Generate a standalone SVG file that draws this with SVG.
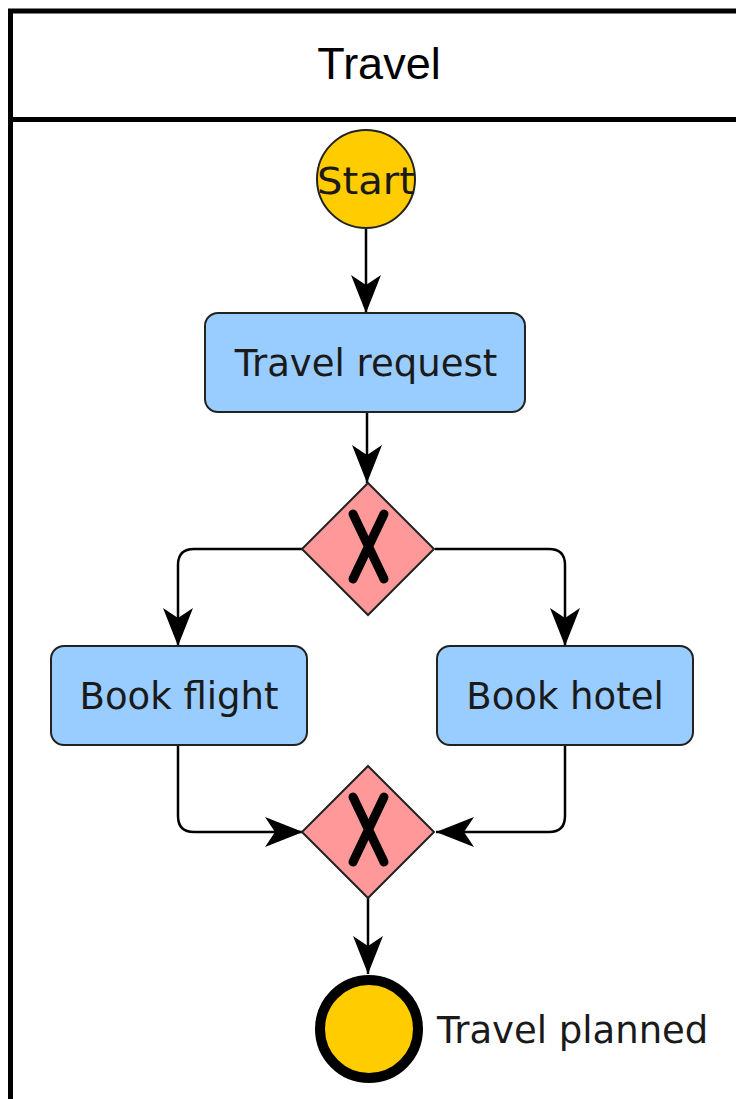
<svg xmlns="http://www.w3.org/2000/svg" width="736" height="1099" viewBox="0 0 736 1099">
<style>
  .lbl { font-family: "DejaVu Sans", Verdana, sans-serif; font-size: 37px; fill: #1a1a1a; }
  .task { fill: #99CCFF; stroke: #222; stroke-width: 2; }
  .gw { fill: #FF9999; stroke: #222; stroke-width: 2; }
  .xmark { stroke: #000; stroke-width: 9; stroke-linecap: round; fill: none; }
  .conn { stroke: #000; stroke-width: 2.5; fill: none; }
</style>
<defs>
  <marker id="arr" markerUnits="userSpaceOnUse" markerWidth="38" markerHeight="30" viewBox="0 0 38 30" refX="38" refY="15" orient="auto">
    <path d="M0,0 L38,15 L0,30 L10,15 Z" fill="#000"/>
  </marker>
</defs>
<rect width="736" height="1099" fill="#fff"/>
<g id="pool">
  <path d="M10.5,1099 L10.5,11 L736,11" fill="none" stroke="#000" stroke-width="5"/>
  <line x1="10.5" y1="119.5" x2="736" y2="119.5" stroke="#000" stroke-width="5"/>
  <text x="379" y="79" text-anchor="middle" font-family="Liberation Sans, Arial, sans-serif" font-size="45" fill="#000">Travel</text>
</g>
<g id="connectors">
  <line class="conn" x1="366" y1="229" x2="366" y2="313" marker-end="url(#arr)"/>
  <line class="conn" x1="367" y1="412" x2="367" y2="483" marker-end="url(#arr)"/>
  <path class="conn" d="M303,549 L194,549 Q178,549 178,565 L178,646" marker-end="url(#arr)"/>
  <path class="conn" d="M435,549 L549,549 Q565,549 565,565 L565,646" marker-end="url(#arr)"/>
  <path class="conn" d="M178,745 L178,816 Q178,832 194,832 L303,832" marker-end="url(#arr)"/>
  <path class="conn" d="M565,745 L565,816 Q565,832 549,832 L436,832" marker-end="url(#arr)"/>
  <line class="conn" x1="368" y1="897" x2="368" y2="974" marker-end="url(#arr)"/>
</g>
<g id="start">
  <circle cx="366" cy="179" r="49" fill="#FFCC00" stroke="#222" stroke-width="2"/>
  <text class="lbl" x="366" y="194" text-anchor="middle" font-size="40" textLength="98" lengthAdjust="spacingAndGlyphs">Start</text>
</g>
<g id="travel-request">
  <rect class="task" x="205" y="313" width="320" height="99" rx="13"/>
  <text class="lbl" x="366" y="376" text-anchor="middle">Travel request</text>
</g>
<g id="split">
  <polygon class="gw" points="368,483 434,549 368,615 302,549"/>
  <path class="xmark" d="M353,514 L384,579 M384,514 L353,579"/>
</g>
<g id="book-flight">
  <rect class="task" x="51" y="646" width="256" height="99" rx="13"/>
  <text class="lbl" x="179" y="709" text-anchor="middle">Book flight</text>
</g>
<g id="book-hotel">
  <rect class="task" x="437" y="646" width="256" height="99" rx="13"/>
  <text class="lbl" x="565" y="709" text-anchor="middle">Book hotel</text>
</g>
<g id="join">
  <polygon class="gw" points="368,766 434,832 368,898 302,832"/>
  <path class="xmark" d="M353,797 L384,862 M384,797 L353,862"/>
</g>
<g id="end">
  <circle cx="369" cy="1029" r="49" fill="#FFCC00" stroke="#000" stroke-width="10"/>
  <text class="lbl" x="437" y="1043">Travel planned</text>
</g>
</svg>
